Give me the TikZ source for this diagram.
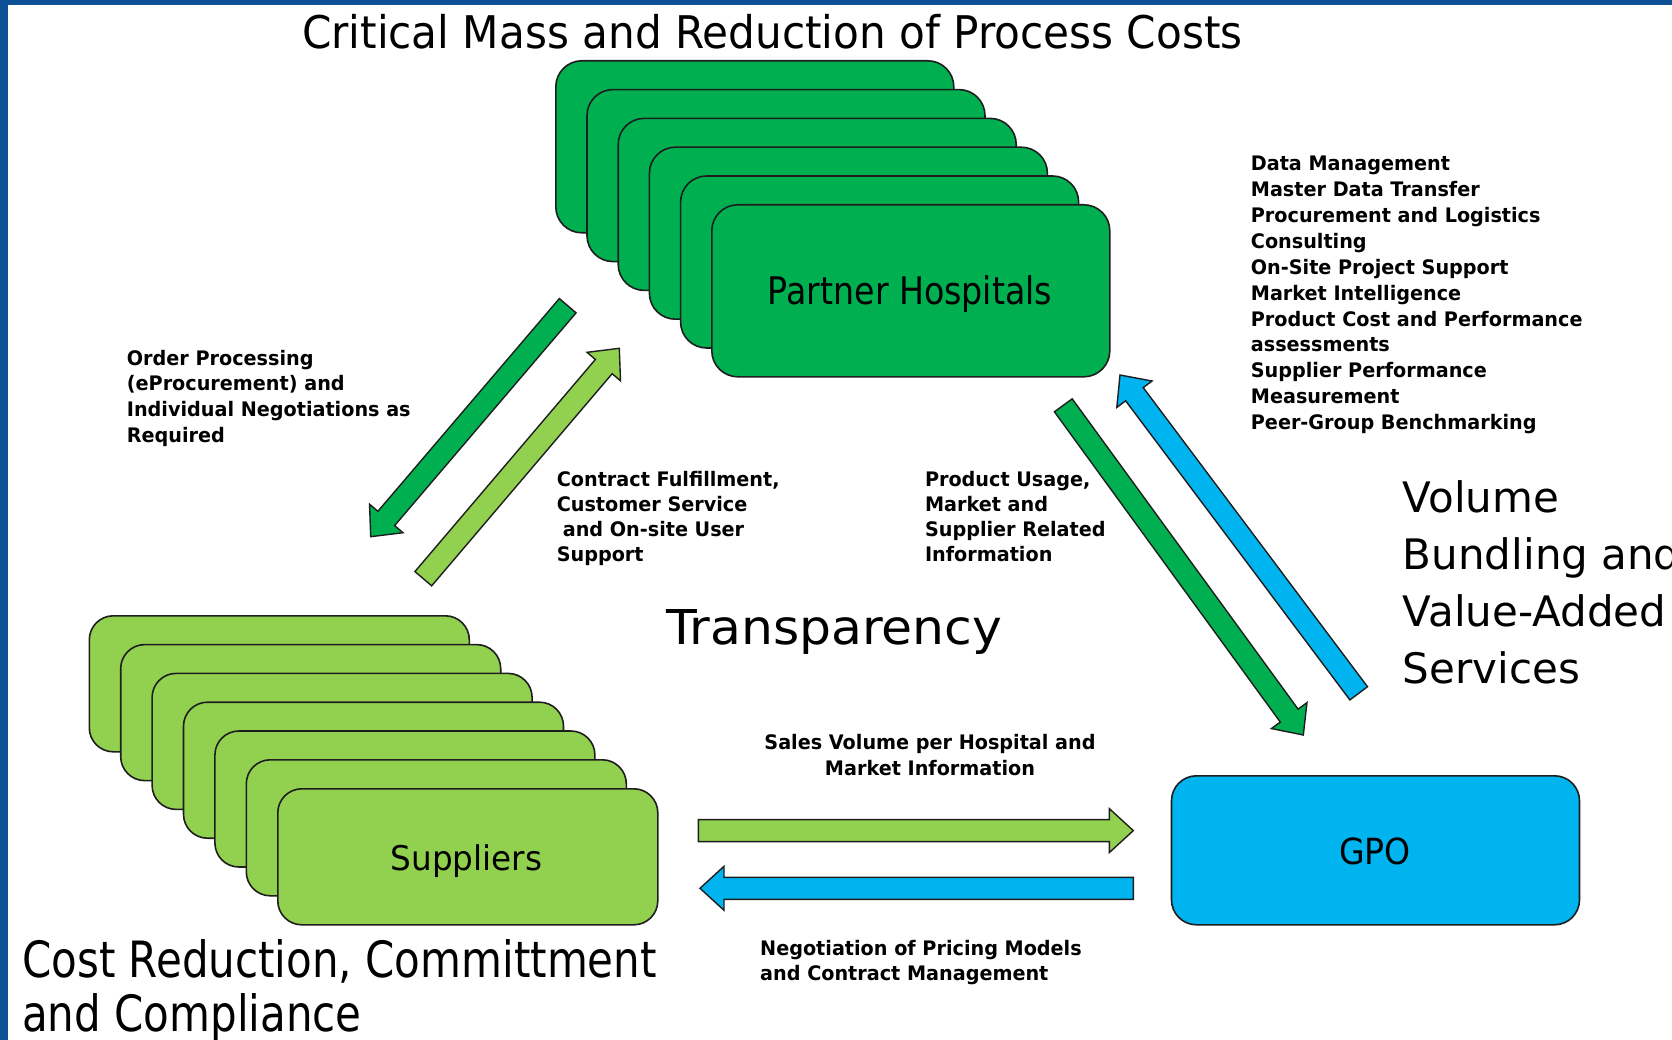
\documentclass[tikz,border=0pt]{standalone}
\usepackage{fontspec}
\setmainfont{DejaVu Sans}
\usetikzlibrary{calc}
\definecolor{hgreen}{RGB}{0,176,80}
\definecolor{sgreen}{RGB}{146,208,80}
\definecolor{gblue}{RGB}{0,180,240}
\definecolor{frameblue}{RGB}{14,80,150}
\definecolor{edge}{RGB}{30,30,30}
\newcommand\txf[3]{\fontsize{#1}{#2}\selectfont\addfontfeature{FakeStretch=#3}}
\newcommand\blockarrow[3]{%
  \coordinate (hb) at ($(#2)!24pt!(#1)$);
  \filldraw[fill=#3, draw=edge, line width=1.4pt, line join=miter]
   ($(#1)!11pt!90:(#2)$) -- ($(hb)!11pt!90:(#2)$) -- ($(hb)!22pt!90:(#2)$) -- (#2)
   -- ($(hb)!22pt!-90:(#2)$) -- ($(hb)!11pt!-90:(#2)$) -- ($(#1)!11pt!-90:(#2)$) -- cycle;}
\begin{document}
\begin{tikzpicture}[x=1pt,y=-1pt,
  hbox/.style={draw=edge, line width=1.6pt, fill=hgreen, rounded corners=26pt,
    minimum width=398pt, minimum height=172pt, anchor=north west, inner sep=0pt},
  sbox/.style={draw=edge, line width=1.6pt, fill=sgreen, rounded corners=24pt,
    minimum width=380pt, minimum height=136pt, anchor=north west, inner sep=0pt},
  gbox/.style={draw=edge, line width=1.6pt, fill=gblue, rounded corners=25pt,
    minimum width=408pt, minimum height=149pt, anchor=north west, inner sep=0pt},
  small/.style={inner sep=0pt, align=left, anchor=north west, text=black},
  big/.style={inner sep=0pt, text=black}]
\useasboundingbox (0,0) rectangle (1672,1040);
\fill[white] (0,0) rectangle (1672,1040);
\fill[frameblue] (0,0) rectangle (8,1040);
\fill[frameblue] (0,0) rectangle (1672,5);

% Partner hospitals stack
\foreach \i in {0,...,4} \node[hbox] (h\i) at ({555+31.2*\i},{60+28.8*\i}) {};
\node[hbox] (h5) at (711,204) {};
\node[big, anchor=base, font={\txf{38}{40}{0.875}}] (hlabel) at (910,305) {Partner Hospitals};

% Suppliers stack
\foreach \i in {0,...,5} \node[sbox] (s\i) at ({88.5+31.4*\i},{615+28.8*\i}) {};
\node[sbox] (s6) at (277,788) {};
\node[big, anchor=base, font={\txf{34}{36}{0.96}}] (slabel) at (466.5,870) {Suppliers};

% GPO
\node[gbox] (gpo) at (1170.7,775) {};
\node[big, anchor=base, font={\txf{36}{38}{0.92}}] (glabel) at (1375,864.3) {GPO};

% arrows
\coordinate (a1t) at (567.7,305.7); \coordinate (a1h) at (370.7,536.7);
\coordinate (a2t) at (423.3,578.7); \coordinate (a2h) at (619.3,348.3);
\coordinate (a3t) at (1063.3,405.3); \coordinate (a3h) at (1303.3,735);
\coordinate (a4t) at (1358.7,693.3); \coordinate (a4h) at (1120,375);
\coordinate (a5t) at (698.3,830.6); \coordinate (a5h) at (1133.3,830.6);
\coordinate (a6t) at (1133.3,888.3); \coordinate (a6h) at (700,888.3);
\blockarrow{a1t}{a1h}{hgreen}
\blockarrow{a2t}{a2h}{sgreen}
\blockarrow{a3t}{a3h}{hgreen}
\blockarrow{a4t}{a4h}{gblue}
\blockarrow{a5t}{a5h}{sgreen}
\blockarrow{a6t}{a6h}{gblue}

% big texts
\node[big, anchor=base west, font={\txf{45}{48}{0.937}}] (title) at (301.8,48.5)
  {Critical Mass and Reduction of Process Costs};
\node[big, anchor=base west, font={\txf{48}{50}{1.05}}] (transp) at (665.8,644)
  {Transparency};
\node[big, align=left, anchor=north west, font={\txf{42}{57}{1.0}}] (volume) at (1402.7,478.7)
  {\rule{0pt}{0.8em}Volume\\Bundling and\\Value-Added\\Services};
\node[big, align=left, anchor=north west, font={\txf{50}{54}{0.84}}] (cost) at (22,937)
  {\rule{0pt}{0.8em}Cost Reduction, Committment\\and Compliance};

% small bold texts
\node[small, font={\bfseries\txf{20}{25.86}{0.96}}] (list) at (1250.7,154.7)
  {\rule{0pt}{0.8em}Data Management\\Master Data Transfer\\Procurement and Logistics\\Consulting\\On-Site Project Support\\Market Intelligence\\Product Cost and Performance\\assessments\\Supplier Performance\\Measurement\\Peer-Group Benchmarking};
\node[small, font={\bfseries\txf{20}{25.6}{0.96}}] (order) at (126.7,349)
  {\rule{0pt}{0.8em}Order Processing\\(eProcurement) and\\Individual Negotiations as\\Required};
\node[small, font={\bfseries\txf{20}{25}{0.96}}] (contract) at (556.6,470.7)
  {\rule{0pt}{0.8em}Contract Fulfillment,\\Customer Service\\\hspace*{6pt}and On-site User\\Support};
\node[small, font={\bfseries\txf{20}{25}{0.96}}] (product) at (924.8,470.7)
  {\rule{0pt}{0.8em}Product Usage,\\Market and\\Supplier Related\\Information};
\node[small, align=center, anchor=north, font={\bfseries\txf{20}{25.7}{0.96}}] (sales) at (930,733.3)
  {\rule{0pt}{0.8em}Sales Volume per Hospital and\\Market Information};
\node[small, font={\bfseries\txf{20}{25}{0.96}}] (nego) at (760,939)
  {\rule{0pt}{0.8em}Negotiation of Pricing Models\\and Contract Management};
\end{tikzpicture}
\end{document}
